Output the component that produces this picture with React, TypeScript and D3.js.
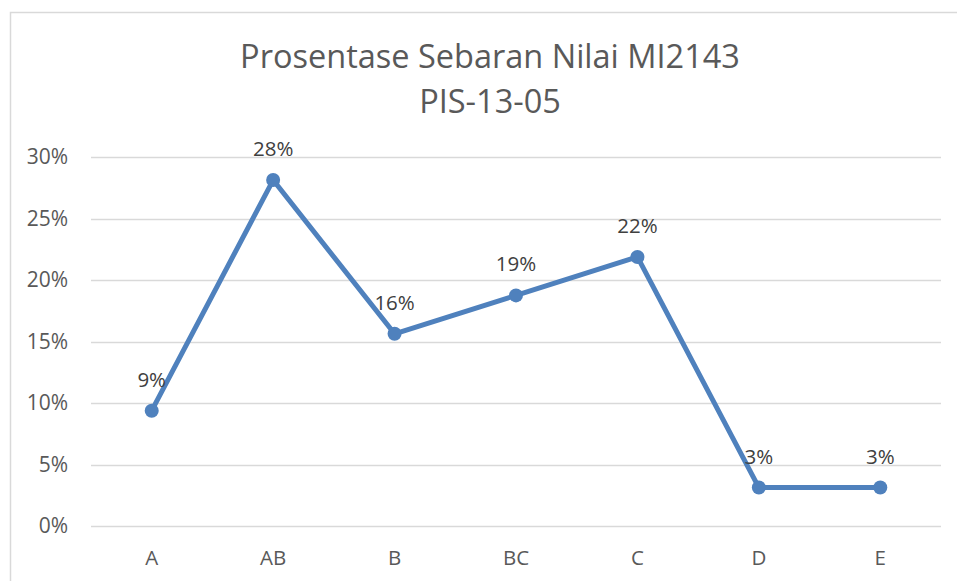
import React from 'react';
import * as d3 from 'd3';

const categories = ['A', 'AB', 'B', 'BC', 'C', 'D', 'E'];
const values = [0.09375, 0.28125, 0.15625, 0.1875, 0.21875, 0.03125, 0.03125];
const dataLabels = ['9%', '28%', '16%', '19%', '22%', '3%', '3%'];
const yTicks = [0, 0.05, 0.1, 0.15, 0.2, 0.25, 0.3];
const titleLines = ['Prosentase Sebaran Nilai MI2143', 'PIS-13-05'];

const width = 957;
const height = 581;
const plot = { left: 91, right: 941, top: 157, bottom: 526 };
const font = '"Open Sans", "Liberation Sans", sans-serif';
const blue = '#4f81bd';

const App = () => {
    const x = d3.scalePoint<string>()
        .domain(categories)
        .range([plot.left, plot.right])
        .padding(0.5);

    const y = d3.scaleLinear()
        .domain([0, 0.3])
        .range([plot.bottom, plot.top]);

    const line = d3.line<number>()
        .x((d, i) => x(categories[i]) as number)
        .y(d => y(d));

    return (
        <svg width={width} height={height} style={{ position: 'absolute', left: 0, top: 0, background: '#fff' }}>
            <rect x={10.5} y={12.5} width={980} height={600} fill="#fff" stroke="#d9d9d9" strokeWidth={1.5} />

            {titleLines.map((t, i) => (
                <text key={t} x={490} y={68 + i * 45} textAnchor="middle"
                    fontFamily={font} fontSize={32.5} fill="#595959">{t}</text>
            ))}

            {yTicks.map(t => (
                <g key={t}>
                    <line x1={plot.left} x2={plot.right} y1={Math.round(y(t)) + 0.5} y2={Math.round(y(t)) + 0.5}
                        stroke="#d9d9d9" strokeWidth={1.5} />
                    <text x={68} y={y(t) + 7} textAnchor="end" fontFamily={font} fontSize={21} fill="#595959">
                        {d3.format('.0%')(t)}
                    </text>
                </g>
            ))}

            {categories.map(c => (
                <text key={c} x={x(c)} y={565} textAnchor="middle" fontFamily={font} fontSize={20.5} fill="#595959">{c}</text>
            ))}

            <path d={line(values) || ''} fill="none" stroke={blue} strokeWidth={5} strokeLinejoin="round" />

            {values.map((v, i) => (
                <circle key={i} cx={x(categories[i])} cy={y(v)} r={7} fill={blue} />
            ))}

            {values.map((v, i) => (
                <text key={'l' + i} x={x(categories[i])} y={y(v) - 24} textAnchor="middle"
                    fontFamily={font} fontSize={20.5} fill="#404040">{dataLabels[i]}</text>
            ))}
        </svg>
    );
};

export default App;
